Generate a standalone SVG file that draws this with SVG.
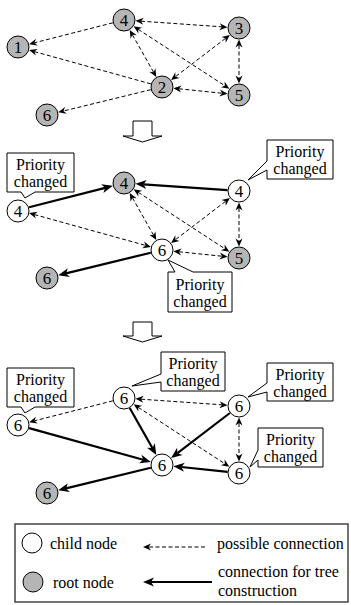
<svg xmlns="http://www.w3.org/2000/svg" width="351" height="605" viewBox="0 0 351 605">
<g id="connectors">
<g id="dashed-lines" fill="none" stroke="#000" stroke-width="1" stroke-dasharray="4,2.5">
<line x1="112.9" y1="22.8" x2="34.4" y2="42.8"/>
<line x1="150.9" y1="83.9" x2="34.4" y2="51.6"/>
<line x1="150.8" y1="89.7" x2="63.5" y2="111"/>
<line x1="140.98" y1="21.18" x2="222.02" y2="26.82"/>
<line x1="132.41" y1="34.79" x2="153.59" y2="72.22"/>
<line x1="138.21" y1="29.3" x2="224.79" y2="85.7"/>
<line x1="225.53" y1="38.34" x2="175.47" y2="76.66"/>
<line x1="239" y1="45" x2="239" y2="78"/>
<line x1="178.87" y1="88.77" x2="222.13" y2="93.23"/>
<line x1="34.4" y1="214.57" x2="145.6" y2="245.43"/>
<line x1="132.41" y1="197.79" x2="153.59" y2="235.22"/>
<line x1="138.21" y1="192.3" x2="224.79" y2="248.7"/>
<line x1="225.53" y1="201.34" x2="175.47" y2="239.66"/>
<line x1="239" y1="208" x2="239" y2="241"/>
<line x1="178.87" y1="251.77" x2="222.13" y2="256.23"/>
<line x1="112.9" y1="400.8" x2="34.43" y2="420.84"/>
<line x1="140.98" y1="399.18" x2="222.02" y2="404.82"/>
<line x1="138.21" y1="407.3" x2="224.79" y2="463.7"/>
<line x1="239" y1="423" x2="239" y2="456"/>
<line x1="205" y1="547" x2="148.5" y2="547"/>
</g>
<g id="dashed-heads" fill="#000" stroke="none">
<polygon points="29.1,44.2 36,38.8 34.4,42.8 37.7,45.6"/>
<polygon points="29.1,50.1 37.7,48.9 34.4,51.6 35.9,55.6"/>
<polygon points="58.2,112.3 65.1,107 63.5,111 66.8,113.8"/>
<polygon points="227.5,27.2 219.28,30.14 222.02,26.82 219.76,23.16"/>
<polygon points="135.5,20.8 143.72,17.86 140.98,21.18 143.24,24.84"/>
<polygon points="156.3,77 149.31,71.77 153.59,72.22 155.41,68.31"/>
<polygon points="129.7,30 130.59,38.69 132.41,34.79 136.69,35.23"/>
<polygon points="229.4,88.7 220.79,87.26 224.79,85.7 224.61,81.4"/>
<polygon points="133.6,26.3 138.39,33.6 138.21,29.3 142.21,27.74"/>
<polygon points="171.1,80 175.32,72.36 175.47,76.66 179.58,77.92"/>
<polygon points="229.9,35 221.42,37.08 225.53,38.34 225.68,42.64"/>
<polygon points="239,83.5 235.5,75.5 239,78 242.5,75.5"/>
<polygon points="239,39.5 235.5,47.5 239,45 242.5,47.5"/>
<polygon points="227.6,93.8 219.28,96.46 222.13,93.23 220,89.5"/>
<polygon points="173.4,88.2 181,92.5 178.87,88.77 181.72,85.54"/>
<polygon points="150.9,246.9 142.26,248.13 145.6,245.43 144.14,241.39"/>
<polygon points="29.1,213.1 35.86,218.61 34.4,214.57 37.74,211.87"/>
<polygon points="156.3,240 149.31,234.77 153.59,235.22 155.41,231.31"/>
<polygon points="129.7,193 130.59,201.69 132.41,197.79 136.69,198.23"/>
<polygon points="229.4,251.7 220.79,250.26 224.79,248.7 224.61,244.4"/>
<polygon points="133.6,189.3 138.39,196.6 138.21,192.3 142.21,190.74"/>
<polygon points="171.1,243 175.32,235.36 175.47,239.66 179.58,240.92"/>
<polygon points="229.9,198 221.42,200.08 225.53,201.34 225.68,205.64"/>
<polygon points="239,246.5 235.5,238.5 239,241 242.5,238.5"/>
<polygon points="239,202.5 235.5,210.5 239,208 242.5,210.5"/>
<polygon points="227.6,256.8 219.28,259.46 222.13,256.23 220,252.5"/>
<polygon points="173.4,251.2 181,255.5 178.87,251.77 181.72,248.54"/>
<polygon points="29.1,422.2 35.99,416.83 34.43,420.84 37.71,423.61"/>
<polygon points="227.5,405.2 219.28,408.14 222.02,404.82 219.76,401.16"/>
<polygon points="135.5,398.8 143.72,395.86 140.98,399.18 143.24,402.84"/>
<polygon points="229.4,466.7 220.79,465.26 224.79,463.7 224.61,459.4"/>
<polygon points="133.6,404.3 138.39,411.6 138.21,407.3 142.21,405.74"/>
<polygon points="239,461.5 235.5,453.5 239,456 242.5,453.5"/>
<polygon points="239,417.5 235.5,425.5 239,423 242.5,425.5"/>
<polygon points="143,547 151,543.5 148.5,547 151,550.5"/>
</g>
<g id="solid-lines" fill="none" stroke="#000" stroke-width="2.2">
<line x1="29.1" y1="207.2" x2="105.16" y2="187.84"/>
<line x1="227.5" y1="190.2" x2="143.48" y2="184.35"/>
<line x1="150.8" y1="252.7" x2="65.97" y2="273.41"/>
<line x1="129.7" y1="408" x2="152.36" y2="448.04"/>
<line x1="229.9" y1="413" x2="177.45" y2="453.14"/>
<line x1="227.6" y1="471.8" x2="181.36" y2="467.02"/>
<line x1="29.1" y1="428.1" x2="143.2" y2="459.76"/>
<line x1="150.8" y1="467.7" x2="65.97" y2="488.41"/>
<line x1="212" y1="582" x2="151" y2="582"/>
</g>
<g id="solid-heads" fill="#000" stroke="none">
<polygon points="112.9,185.8 103.41,192.96 105.16,187.84 101.11,184.26"/>
<polygon points="135.5,183.8 146.78,180.07 143.48,184.35 146.16,189.05"/>
<polygon points="58.2,275.3 67.82,268.33 65.97,273.41 69.94,277.07"/>
<polygon points="156.3,455 146.96,447.65 152.36,448.04 154.8,443.21"/>
<polygon points="171.1,458 177.09,447.74 177.45,453.14 182.57,454.88"/>
<polygon points="173.4,466.2 184.81,462.85 181.36,467.02 183.89,471.81"/>
<polygon points="150.9,461.9 139.11,463.29 143.2,459.76 141.51,454.63"/>
<polygon points="58.2,490.3 67.82,483.33 65.97,488.41 69.94,492.07"/>
<polygon points="143,582 154,577.5 151,582 154,586.5"/>
</g>
</g>

<g id="nodes" stroke="#000" stroke-width="1">
<g id="p1-n1"><circle fill="#b5b5b5" cx="18" cy="47" r="11"/><text font-family="Liberation Serif" font-size="17" text-anchor="middle" stroke="none" x="18" y="53">1</text></g>
<g id="p1-n4"><circle fill="#b5b5b5" cx="124" cy="20" r="11"/><text font-family="Liberation Serif" font-size="17" text-anchor="middle" stroke="none" x="124" y="26">4</text></g>
<g id="p1-n3"><circle fill="#b5b5b5" cx="239" cy="28" r="11"/><text font-family="Liberation Serif" font-size="17" text-anchor="middle" stroke="none" x="239" y="34">3</text></g>
<g id="p1-n2"><circle fill="#b5b5b5" cx="162" cy="87" r="11"/><text font-family="Liberation Serif" font-size="17" text-anchor="middle" stroke="none" x="162" y="93">2</text></g>
<g id="p1-n5"><circle fill="#b5b5b5" cx="239" cy="95" r="11"/><text font-family="Liberation Serif" font-size="17" text-anchor="middle" stroke="none" x="239" y="101">5</text></g>
<g id="p1-n6"><circle fill="#b5b5b5" cx="47" cy="115" r="11"/><text font-family="Liberation Serif" font-size="17" text-anchor="middle" stroke="none" x="47" y="121">6</text></g>

<g id="p2-l4"><circle fill="#fff" cx="18" cy="211" r="11"/><text font-family="Liberation Serif" font-size="17" text-anchor="middle" stroke="none" x="18" y="217">4</text></g>
<g id="p2-g4"><circle fill="#b5b5b5" cx="124" cy="183" r="11"/><text font-family="Liberation Serif" font-size="17" text-anchor="middle" stroke="none" x="124" y="189">4</text></g>
<g id="p2-r4"><circle fill="#fff" cx="239" cy="191" r="11"/><text font-family="Liberation Serif" font-size="17" text-anchor="middle" stroke="none" x="239" y="197">4</text></g>
<g id="p2-c6"><circle fill="#fff" cx="162" cy="250" r="11"/><text font-family="Liberation Serif" font-size="17" text-anchor="middle" stroke="none" x="162" y="256">6</text></g>
<g id="p2-g5"><circle fill="#b5b5b5" cx="239" cy="258" r="11"/><text font-family="Liberation Serif" font-size="17" text-anchor="middle" stroke="none" x="239" y="264">5</text></g>
<g id="p2-g6"><circle fill="#b5b5b5" cx="47" cy="278" r="11"/><text font-family="Liberation Serif" font-size="17" text-anchor="middle" stroke="none" x="47" y="284">6</text></g>

<g id="p3-l6"><circle fill="#fff" cx="18" cy="425" r="11"/><text font-family="Liberation Serif" font-size="17" text-anchor="middle" stroke="none" x="18" y="431">6</text></g>
<g id="p3-t6"><circle fill="#fff" cx="124" cy="398" r="11"/><text font-family="Liberation Serif" font-size="17" text-anchor="middle" stroke="none" x="124" y="404">6</text></g>
<g id="p3-rt6"><circle fill="#fff" cx="239" cy="406" r="11"/><text font-family="Liberation Serif" font-size="17" text-anchor="middle" stroke="none" x="239" y="412">6</text></g>
<g id="p3-c6"><circle fill="#fff" cx="162" cy="465" r="11"/><text font-family="Liberation Serif" font-size="17" text-anchor="middle" stroke="none" x="162" y="471">6</text></g>
<g id="p3-rb6"><circle fill="#fff" cx="239" cy="473" r="11"/><text font-family="Liberation Serif" font-size="17" text-anchor="middle" stroke="none" x="239" y="479">6</text></g>
<g id="p3-g6"><circle fill="#b5b5b5" cx="47" cy="493" r="11"/><text font-family="Liberation Serif" font-size="17" text-anchor="middle" stroke="none" x="47" y="499">6</text></g>
</g>

<g id="step-arrows" fill="#fff" stroke="#000" stroke-width="1">
<polygon points="133,121 152,121 152,136 162,136 142.5,142 123,136 133,136"/>
<polygon points="133,322 152,322 152,336 162,336 142.5,342 123,336 133,336"/>
</g>

<g id="callouts">
<g id="p2-call-l"><path fill="#fff" stroke="#000" d="M7,153 H74 V192 H35 L25,198 L21,192 H7 Z"/><text font-family="Liberation Serif" font-size="16" text-anchor="middle" x="40.5" y="170">Priority</text><text font-family="Liberation Serif" font-size="16" text-anchor="middle" x="40.5" y="187">changed</text></g>
<g id="p2-call-r"><path fill="#fff" stroke="#000" d="M267,140 H333 V179 H267 V170 L248,180 L267,161 Z"/><text font-family="Liberation Serif" font-size="16" text-anchor="middle" x="300" y="157">Priority</text><text font-family="Liberation Serif" font-size="16" text-anchor="middle" x="300" y="174">changed</text></g>
<g id="p2-call-b"><path fill="#fff" stroke="#000" d="M168,272 H175 L168,260 L193,272 H232 V312 H168 Z"/><text font-family="Liberation Serif" font-size="16" text-anchor="middle" x="200" y="290">Priority</text><text font-family="Liberation Serif" font-size="16" text-anchor="middle" x="200" y="307">changed</text></g>
<g id="p3-call-l"><path fill="#fff" stroke="#000" d="M7,368 H74 V407 H35 L25,413 L21,407 H7 Z"/><text font-family="Liberation Serif" font-size="16" text-anchor="middle" x="40.5" y="385">Priority</text><text font-family="Liberation Serif" font-size="16" text-anchor="middle" x="40.5" y="402">changed</text></g>
<g id="p3-call-t"><path fill="#fff" stroke="#000" d="M161,352 H225 V391 H161 V382 L132,386 L161,374 Z"/><text font-family="Liberation Serif" font-size="16" text-anchor="middle" x="193" y="369">Priority</text><text font-family="Liberation Serif" font-size="16" text-anchor="middle" x="193" y="386">changed</text></g>
<g id="p3-call-rt"><path fill="#fff" stroke="#000" d="M267,363 H333 V401 H267 V392 L248,397 L267,383 Z"/><text font-family="Liberation Serif" font-size="16" text-anchor="middle" x="300" y="380">Priority</text><text font-family="Liberation Serif" font-size="16" text-anchor="middle" x="300" y="397">changed</text></g>
<g id="p3-call-rb"><path fill="#fff" stroke="#000" d="M258,428 H323 V467 H258 V460 L250,467 L258,450 Z"/><text font-family="Liberation Serif" font-size="16" text-anchor="middle" x="290.5" y="445">Priority</text><text font-family="Liberation Serif" font-size="16" text-anchor="middle" x="290.5" y="462">changed</text></g>
</g>

<g id="legend">
<rect x="15" y="524" width="333" height="78" fill="none" stroke="#444" stroke-width="1.5"/>
<circle cx="32" cy="543" r="10" fill="#fff" stroke="#000"/>
<text font-family="Liberation Serif" font-size="16" x="50" y="549">child node</text>
<circle cx="33" cy="582" r="10" fill="#b5b5b5" stroke="#000"/>
<text font-family="Liberation Serif" font-size="16" x="53" y="588">root node</text>
<text font-family="Liberation Serif" font-size="16" x="217" y="549">possible connection</text>
<text font-family="Liberation Serif" font-size="16" x="218" y="577">connection for tree</text>
<text font-family="Liberation Serif" font-size="16" x="218" y="596">construction</text>
</g>
</svg>
